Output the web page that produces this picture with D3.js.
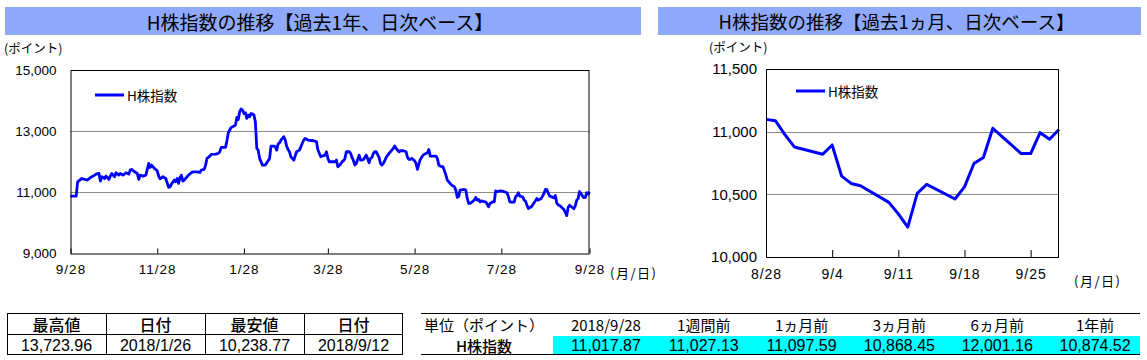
<!DOCTYPE html>
<html lang="ja">
<head>
<meta charset="UTF-8">
<title>H株指数の推移</title>
<style>
  body { margin: 0; background: #fff; }
  svg text { font-family: "Liberation Sans", Arial, sans-serif; fill: #000; }
  svg .jp { font-family: "Noto Sans CJK JP", sans-serif; }
</style>
</head>
<body>

<svg id="chart" width="1147" height="360"></svg>

<script src="https://d3js.org/d3.v7.min.js"></script>
<script>

// ---------- data ----------

// past year: day number counted from 2017/9/28, and the index close
var yearDayNo = [0,4,5,8,10,12,14,16,18,20,21,22,24,25,27,28,29,30,31,32,34,35,37,39,41,42,43,45,47,48,49,51,53,54,55,56,57,58,59,61,62,63,65,67,68,69,70,71,73,74,75,76,77,78,79,80,81,83,85,86,89,91,92,94,95,96,98,99,102,104,105,106,109,110,111,113,115,116,117,118,119,120,121,122,123,124,125,126,127,128,129,130,131,132,133,135,137,140,141,143,144,145,146,147,148,149,150,151,152,153,154,155,157,158,159,161,
  164,165,167,171,173,174,176,177,179,180,181,182,184,186,187,188,190,191,192,193,194,196,197,198,199,200,201,203,204,205,206,207,208,210,211,212,213,214,215,217,218,219,220,221,222,224,226,227,228,229,231,232,234,236,237,238,239,240,242,243,244,245,246,248,250,251,252,253,254,257,258,259,260,261,262,264,265,267,268,270,271,272,273,274,277,278,279,280,281,282,284,285,286,287,288,289,291,292,293,294,295,297,298,299,300,302,304,305,307,308,309,310,312,313,314,315,316,318,319,320,321,322,324,325,326,327,328,329,331,332,333];
var yearValues = [10875,10876,11345,11454,11421,11400,11487,11531,11596,11618,11367,11509,11454,11531,11421,11531,11618,11563,11509,11640,11563,11618,11563,11640,11596,11727,11749,11672,11618,11421,11563,11531,11563,11749,11945,11814,11891,11836,11782,11705,11531,11443,11509,11454,11312,11160,11182,11269,11400,11345,11454,11291,11487,11563,11367,11400,11454,11563,11640,11672,11672,11651,11727,11749,11891,12109,12185,12240,12251,12273,12327,12469,12469,12687,12949,13123,13167,13200,13450,13380,13640,13724,13690,13580,13600,13420,13530,13470,13580,13560,13530,13310,12440,12380,12110,11890,11890,12110,12510,12510,12490,12380,12580,12620,12710,12760,12820,12710,12510,12400,12330,12160,12050,12190,12330,12380,
  12709,12763,12709,12687,12654,12382,12163,12185,12218,12327,12109,12000,12000,12000,12054,11836,11923,12000,12033,12109,12327,12327,12273,12142,12033,11891,11945,12218,12054,12054,12076,12142,12218,11967,12109,12142,12273,12327,12327,12142,11945,11891,11945,12033,12142,12273,12382,12436,12513,12436,12327,12360,12360,12327,12142,12076,12076,12109,12033,11945,11749,11923,12076,12218,12273,12294,12403,12185,12185,12185,12109,11891,11858,11836,11836,11563,11400,11291,11236,11182,11072,10832,10868,11072,11094,11072,10800,10636,10636,10669,10745,10832,10745,10767,10691,10723,10691,10691,10614,10527,10636,10691,10691,11050,11018,11050,11040,11018,10985,10854,10691,10680,10680,10854,10898,10985,10876,10854,10745,10712,10581,10472,10527,10581,10658,10723,10800,10745,10800,10876,10963];

// past month, trading days
var monthDates = ["2018-08-28","2018-08-29","2018-08-30","2018-08-31","2018-09-03","2018-09-04","2018-09-05","2018-09-06","2018-09-07","2018-09-10","2018-09-11","2018-09-12","2018-09-13","2018-09-14","2018-09-17","2018-09-18","2018-09-19","2018-09-20","2018-09-21","2018-09-24","2018-09-25","2018-09-26","2018-09-27","2018-09-28"];
var monthValues = [11098,11087,10976,10878,10820,10894,10645,10587,10568,10436,10344,10239,10508,10579,10463,10560,10746,10794,11027,10825,10825,10992,10939,11018];

// axis ticks
var yearXTicks = ["2017-09-28","2017-11-28","2018-01-28","2018-03-28","2018-05-28","2018-07-28","2018-09-28"];
var yearYTicks = [9000,11000,13000,15000];
var yearGrid = [11000,13000];
var monthXTicks = ["2018-08-28","2018-09-04","2018-09-11","2018-09-18","2018-09-25"];
var monthYTicks = [10000,10500,11000,11500];
var monthGrid = [10500,11000];

// tables
var statHeads = ["最高値","日付","最安値","日付"];
var statValues = ["13,723.96","2018/1/26","10,238.77","2018/9/12"];
var perfHeads = ["単位（ポイント）","2018/9/28","1週間前","1ヵ月前","3ヵ月前","6ヵ月前","1年前"];
var perfLabel = "H株指数";
var perfValues = [11017.87,11027.13,11097.59,10868.45,12001.16,10874.52];

var seriesName = "H株指数";

// ---------- drawing ----------

var svg = d3.select("#chart");
var parse = d3.timeParse("%Y-%m-%d");
var yearStart = parse("2017-09-28");

// year series = read-off points + the month points for the last month
var yearData = yearDayNo.map(function(n, i) {
  return { date: d3.timeDay.offset(yearStart, n), value: yearValues[i] };
}).concat(monthDates.map(function(d, i) {
  return { date: parse(d), value: monthValues[i] };
}));
var monthData = monthDates.map(function(d, i) {
  return { date: parse(d), value: monthValues[i] };
});

// title bars
function titleBar(x0, x1, text, size) {
  svg.append("rect").attr("x", x0).attr("y", 7).attr("width", x1 - x0).attr("height", 28)
    .attr("fill", "#8faafa");
  svg.append("text").attr("class", "jp").attr("x", (x0 + x1) / 2 - 3).attr("y", 21)
    .attr("text-anchor", "middle").attr("dominant-baseline", "central")
    .style("font-size", size + "px").text(text);
}
titleBar(5, 641, "H株指数の推移【過去1年、日次ベース】", 19);
titleBar(658, 1141, "H株指数の推移【過去1ヵ月、日次ベース】", 18.5);

// one line chart
function lineChart(o) {
  var x = d3.scaleTime().domain(o.xDomain.map(parse)).range([o.left, o.right]);
  var y = d3.scaleLinear().domain(o.yDomain).range([o.bottom, o.top]);
  var g = svg.append("g");

  // grid lines
  g.selectAll(".grid").data(o.grid).enter().append("line")
    .attr("x1", o.left).attr("x2", o.right)
    .attr("y1", function(d) { return Math.round(y(d)) + 0.5; })
    .attr("y2", function(d) { return Math.round(y(d)) + 0.5; })
    .attr("stroke", "#8c8c8c").attr("stroke-width", 1);

  // y axis labels
  var ya = g.append("g").attr("transform", "translate(" + o.left + ",0)")
    .call(d3.axisLeft(y).tickValues(o.yTicks).tickSize(0).tickPadding(o.yPad).tickFormat(d3.format(",")));
  ya.select(".domain").remove();
  ya.selectAll("text").style("font-size", o.yFont + "px").attr("font-family", null);

  // x axis: ticks point up into the plot
  var xa = g.append("g").attr("transform", "translate(0," + o.bottom + ")")
    .call(d3.axisBottom(x).tickValues(o.xTicks.map(parse)).tickSizeInner(-o.tick).tickSizeOuter(0)
      .tickPadding(o.xPad).tickFormat(d3.timeFormat("%-m/%-d")));
  xa.select(".domain").remove();
  xa.selectAll("line").attr("stroke", "#000");
  xa.selectAll("text").style("font-size", o.xFont + "px").style("letter-spacing", "1px").attr("font-family", null);

  // the series
  var line = d3.line().x(function(d) { return x(d.date); }).y(function(d) { return y(d.value); });
  g.append("path").datum(o.data).attr("d", line)
    .attr("fill", "none").attr("stroke", "#0000ff").attr("stroke-width", o.lw)
    .attr("stroke-linejoin", "round");

  // plot frame
  g.append("rect").attr("x", o.left + 0.5).attr("y", o.top + 0.5)
    .attr("width", o.right - o.left - 1).attr("height", o.bottom - o.top)
    .attr("fill", "none").attr("stroke", "#000");

  // legend
  g.append("line").attr("x1", o.legX).attr("x2", o.legX + 29).attr("y1", o.legY).attr("y2", o.legY)
    .attr("stroke", "#0000ff").attr("stroke-width", 3);
  g.append("text").attr("class", "jp").attr("x", o.legX + 32).attr("y", o.legY)
    .attr("dominant-baseline", "central").style("font-size", "13.5px").text(seriesName);

  // unit labels
  g.append("text").attr("class", "jp").attr("x", o.unitX).attr("y", o.unitY)
    .attr("dominant-baseline", "central").style("font-size", "12.5px").text("(ポイント)");
  g.append("text").attr("class", "jp").attr("x", o.dayX).attr("y", o.dayY)
    .attr("dominant-baseline", "central").style("font-size", "13px").style("letter-spacing", "1.5px")
    .text("(月/日)");
}

lineChart({
  data: yearData, xDomain: ["2017-09-28", "2018-09-28"], yDomain: [9000, 15000],
  xTicks: yearXTicks, yTicks: yearYTicks, grid: yearGrid,
  left: 70.5, right: 589.5, top: 70, bottom: 253.5,
  yPad: 14, yFont: 13.5, xPad: 11, xFont: 13.5, tick: 5, lw: 2.8,
  legX: 95, legY: 95, unitX: 4, unitY: 47, dayX: 610, dayY: 272
});

lineChart({
  data: monthData, xDomain: ["2018-08-28", "2018-09-28"], yDomain: [10000, 11500],
  xTicks: monthXTicks, yTicks: monthYTicks, grid: monthGrid,
  left: 766, right: 1059, top: 69, bottom: 257,
  yPad: 9, yFont: 15, xPad: 12, xFont: 14, tick: 7, lw: 3,
  legX: 796, legY: 91, unitX: 709, unitY: 46, dayX: 1074, dayY: 280
});

// ---------- table: high / low ----------
var t1x = d3.scaleBand().domain(d3.range(statHeads.length)).range([7, 403]);
var t1 = svg.append("g");
t1.append("rect").attr("x", 7.5).attr("y", 313.5).attr("width", 395).attr("height", 41)
  .attr("fill", "none").attr("stroke", "#000");
t1.append("line").attr("x1", 7.5).attr("x2", 402.5).attr("y1", 334.5).attr("y2", 334.5).attr("stroke", "#000");
t1.selectAll(".sep").data(d3.range(1, statHeads.length)).enter().append("line")
  .attr("x1", function(i) { return Math.round(t1x(i)) + 0.5; })
  .attr("x2", function(i) { return Math.round(t1x(i)) + 0.5; })
  .attr("y1", 313.5).attr("y2", 354.5).attr("stroke", "#000");
t1.selectAll(".head").data(statHeads).enter().append("text").attr("class", "jp")
  .attr("x", function(d, i) { return t1x(i) + t1x.bandwidth() / 2; }).attr("y", 324)
  .attr("text-anchor", "middle").attr("dominant-baseline", "central")
  .style("font-size", "16px").style("font-weight", 500).text(function(d) { return d; });
t1.selectAll(".val").data(statValues).enter().append("text")
  .attr("x", function(d, i) { return t1x(i) + t1x.bandwidth() / 2; }).attr("y", 345)
  .attr("text-anchor", "middle").attr("dominant-baseline", "central")
  .style("font-size", "16px").text(function(d) { return d; });

// ---------- table: performance ----------
var t2x = d3.scaleBand().domain(d3.range(perfValues.length)).range([553, 1140]);
var t2 = svg.append("g");
t2.append("rect").attr("x", 553).attr("y", 336).attr("width", 587).attr("height", 18).attr("fill", "#00ffff");
t2.append("line").attr("x1", 421).attr("x2", 1140).attr("y1", 313.5).attr("y2", 313.5).attr("stroke", "#000");
t2.append("line").attr("x1", 421).attr("x2", 1140).attr("y1", 354.5).attr("y2", 354.5).attr("stroke", "#000");
t2.append("text").attr("class", "jp").attr("x", 484).attr("y", 324)
  .attr("text-anchor", "middle").attr("dominant-baseline", "central")
  .style("font-size", "15px").text(perfHeads[0]);
t2.selectAll(".head").data(perfHeads.slice(1)).enter().append("text").attr("class", "jp")
  .attr("x", function(d, i) { return t2x(i) + t2x.bandwidth() / 2 + 4; }).attr("y", 324)
  .attr("text-anchor", "middle").attr("dominant-baseline", "central")
  .style("font-size", "15px").text(function(d) { return d; });
t2.append("text").attr("class", "jp").attr("x", 484).attr("y", 345)
  .attr("text-anchor", "middle").attr("dominant-baseline", "central")
  .style("font-size", "15px").style("font-weight", 500).text(perfLabel);
t2.selectAll(".val").data(perfValues).enter().append("text")
  .attr("x", function(d, i) { return t2x(i) + t2x.bandwidth() / 2 + 4; }).attr("y", 345)
  .attr("text-anchor", "middle").attr("dominant-baseline", "central")
  .style("font-size", "16px").text(function(d) { return d3.format(",.2f")(d); });

</script>
</body>
</html>
